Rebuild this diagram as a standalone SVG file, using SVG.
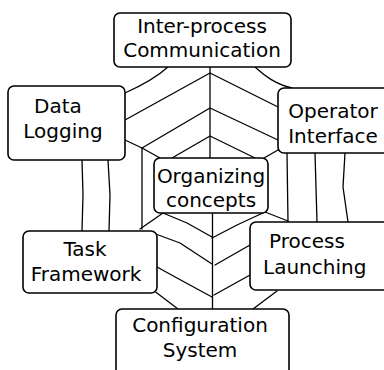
<svg xmlns="http://www.w3.org/2000/svg" width="384" height="370" viewBox="0 0 384 370">
<style>
.c{fill:none;stroke:#000;stroke-width:1.3;stroke-linejoin:round;stroke-linecap:round}
.b{fill:#fff;stroke:#000;stroke-width:1.6}
.t{font-family:"DejaVu Sans",sans-serif;font-size:20px;fill:#000}
.m{text-anchor:middle}
</style>
<rect width="384" height="370" fill="#fff"/>
<g id="connectors">
<path class="c" d="M168,67 C158,76 145,84 125,93"/>
<path class="c" d="M255,67 C265,76 275,84 292,88"/>
<path class="c" d="M210,67 L210,158"/>
<path class="c" d="M125,120 L210,73 L278,107"/>
<path class="c" d="M142,148 L210,108 L278,140"/>
<path class="c" d="M172,158 L210,136 L255,158"/>
<path class="c" d="M125,140 L142,148 L160,158"/>
<path class="c" d="M264,158 L278,150"/>
<path class="c" d="M142,148 L142,229"/>
<path class="c" d="M140,229 L163,213"/>
<path class="c" d="M153,233 L180,243 L212,264"/>
<path class="c" d="M163,213 L187,223 L212,237"/>
<path class="c" d="M157,267 L177,278 L212,297"/>
<path class="c" d="M153,290 L178,309"/>
<path class="c" d="M212.5,213 L212.5,309"/>
<path class="c" d="M212,238 L237,225 L265,212"/>
<path class="c" d="M265,212 L288,221"/>
<path class="c" d="M215,265 L250,245"/>
<path class="c" d="M214,295 L250,275"/>
<path class="c" d="M277,291 L253,309"/>
<path class="c" d="M82,160 L83,195 L82,231"/>
<path class="c" d="M108,160 L110,195 L109,231"/>
<path class="c" d="M287,153 L288,222"/>
<path class="c" d="M315,153 L317,222"/>
<path class="c" d="M345,153 L343,187 L348,222"/>
</g>
<g id="ipc">
<rect class="b" x="114" y="13" width="177" height="54" rx="6"/>
<text class="t m" x="202" y="33">Inter-process</text>
<text class="t m" x="202" y="57">Communication</text>
</g>
<g id="datalogging">
<rect class="b" x="8" y="86" width="117" height="74" rx="6"/>
<text class="t m" x="58" y="113">Data</text>
<text class="t m" x="63" y="138">Logging</text>
</g>
<g id="operator">
<rect class="b" x="278" y="88" width="115" height="65" rx="6"/>
<text class="t m" x="333" y="118">Operator</text>
<text class="t m" x="333" y="143">Interface</text>
</g>
<g id="organizing">
<rect class="b" x="154" y="158" width="114" height="55" rx="6"/>
<text class="t m" x="211" y="183">Organizing</text>
<text class="t m" x="211" y="207">concepts</text>
</g>
<g id="task">
<rect class="b" x="23" y="231" width="134" height="62" rx="6"/>
<text class="t m" x="85" y="256">Task</text>
<text class="t m" x="86" y="281">Framework</text>
</g>
<g id="process">
<rect class="b" x="250" y="222" width="140" height="68" rx="6"/>
<text class="t" x="269" y="248">Process</text>
<text class="t" x="263" y="274">Launching</text>
</g>
<g id="config">
<rect class="b" x="116" y="309" width="173" height="80" rx="6"/>
<text class="t m" x="200" y="332">Configuration</text>
<text class="t m" x="200" y="357">System</text>
</g>
</svg>
